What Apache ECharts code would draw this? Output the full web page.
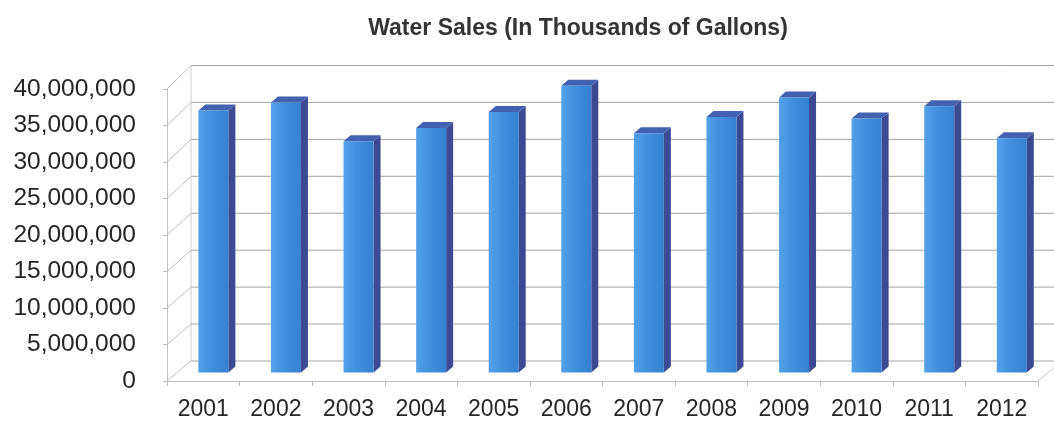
<!DOCTYPE html>
<html>
<head>
<meta charset="utf-8">
<script src="https://cdn.jsdelivr.net/npm/echarts@6/dist/echarts.min.js"></script>
<style>
  html, body { margin: 0; padding: 0; background: #ffffff; }
  #chart { width: 1054px; height: 421px; }
</style>
</head>
<body>
<div id="chart"></div>
<script>
// Annual water sales, in thousands of gallons
const years = ['2001', '2002', '2003', '2004', '2005', '2006', '2007', '2008', '2009', '2010', '2011', '2012'];
const sales = [35900000, 37000000, 31700000, 33500000, 35700000, 39300000, 32800000, 35000000, 37700000, 34800000, 36500000, 32100000];
const yTicks = [0, 5000000, 10000000, 15000000, 20000000, 25000000, 30000000, 35000000, 40000000];

// Pseudo-3D depth of the plot box (back wall offset from the front plane)
const WALL_DX = 24, WALL_DY = -20, WALL_SCALE = 1.012;
// Columns sit part-way into the box, with their own small depth
const BAR_FRAC = 0.42, BAR_W = 30, BAR_DX = 7, BAR_DY = -6;

const chart = echarts.init(document.getElementById('chart'), null, { renderer: 'canvas' });

function wallItem(params, api) {
  const cs = params.coordSys;
  const left = cs.x, right = cs.x + cs.width, bottom = cs.y + cs.height;
  const backY = yF => bottom + WALL_DY - (bottom - yF) * WALL_SCALE;
  const children = [];
  yTicks.forEach(v => {
    const yF = api.coord([0, v])[1];
    const yB = backY(yF);
    // back wall gridline
    children.push({ type: 'line', shape: { x1: left + WALL_DX, y1: yB, x2: right + WALL_DX + 40, y2: yB },
      style: { stroke: '#a3a3a3', lineWidth: 1 } });
    // side wall line
    children.push({ type: 'line', shape: { x1: left, y1: yF, x2: left + WALL_DX, y2: yB },
      style: { stroke: '#c0c0c0', lineWidth: 1 } });
  });
  const yTop = api.coord([0, yTicks[yTicks.length - 1]])[1];
  // back-left corner edge
  children.push({ type: 'line', shape: { x1: left + WALL_DX, y1: backY(yTop), x2: left + WALL_DX, y2: backY(bottom) },
    style: { stroke: '#cccccc', lineWidth: 1 } });
  // floor right edge
  children.push({ type: 'line', shape: { x1: right, y1: bottom, x2: right + WALL_DX, y2: backY(bottom) },
    style: { stroke: '#c0c0c0', lineWidth: 1 } });
  return { type: 'group', children: children };
}

function barItem(params, api) {
  const idx = api.value(0);
  const val = api.value(1);
  const base = api.coord([idx, 0]);
  const topPt = api.coord([idx, val]);
  const sx = WALL_DX * BAR_FRAC, sy = WALL_DY * BAR_FRAC;
  const xL = base[0] + sx - BAR_W / 2, xR = xL + BAR_W;
  const yB = base[1] + sy, yT = topPt[1] + sy;
  return {
    type: 'group',
    children: [
      { type: 'polygon',
        shape: { points: [[xR, yT], [xR + BAR_DX, yT + BAR_DY], [xR + BAR_DX, yB + BAR_DY], [xR, yB]] },
        style: { fill: '#3c4a94' } },
      { type: 'polygon',
        shape: { points: [[xL, yT], [xR, yT], [xR + BAR_DX, yT + BAR_DY], [xL + BAR_DX, yT + BAR_DY]] },
        style: { fill: '#4261b0' } },
      { type: 'rect',
        shape: { x: xL, y: yT, width: BAR_W, height: yB - yT },
        style: { fill: new echarts.graphic.LinearGradient(0, 0, 1, 0, [
          { offset: 0, color: '#52a1e8' },
          { offset: 0.5, color: '#3f8ddb' },
          { offset: 1, color: '#3581d0' }
        ]) } }
    ]
  };
}

chart.setOption({
  animation: false,
  backgroundColor: '#ffffff',
  title: {
    text: 'Water Sales (In Thousands of Gallons)',
    left: 573, top: 12, textAlign: 'center',
    textStyle: { fontFamily: 'Liberation Sans, Arial, sans-serif', fontSize: 23, fontWeight: 'bold', color: '#333333' }
  },
  grid: { left: 167, right: 16, top: 89, bottom: 40 },
  xAxis: {
    type: 'category',
    data: years,
    axisLine: { show: true, lineStyle: { color: '#bdbdbd', width: 1 } },
    axisTick: { show: true, length: 5, lineStyle: { color: '#bdbdbd' } },
    axisLabel: { margin: 17, fontSize: 23, color: '#262626', fontFamily: 'Liberation Sans, Arial, sans-serif' },
    splitLine: { show: false }
  },
  yAxis: {
    type: 'value',
    min: 0, max: 40000000, interval: 5000000,
    axisLine: { show: true, lineStyle: { color: '#bdbdbd', width: 1 } },
    axisTick: { show: true, length: 4, lineStyle: { color: '#bdbdbd' } },
    axisLabel: {
      margin: 31, fontSize: 24.5, color: '#262626', fontFamily: 'Liberation Sans, Arial, sans-serif',
      formatter: v => v.toLocaleString('en-US')
    },
    splitLine: { show: false }
  },
  series: [
    { type: 'custom', name: 'walls', data: [[0, 0]], renderItem: wallItem, silent: true, z: 1, clip: false },
    { type: 'custom', name: 'Water Sales', data: sales.map((v, i) => [i, v]), renderItem: barItem, z: 2, clip: false }
  ]
});
</script>
</body>
</html>
